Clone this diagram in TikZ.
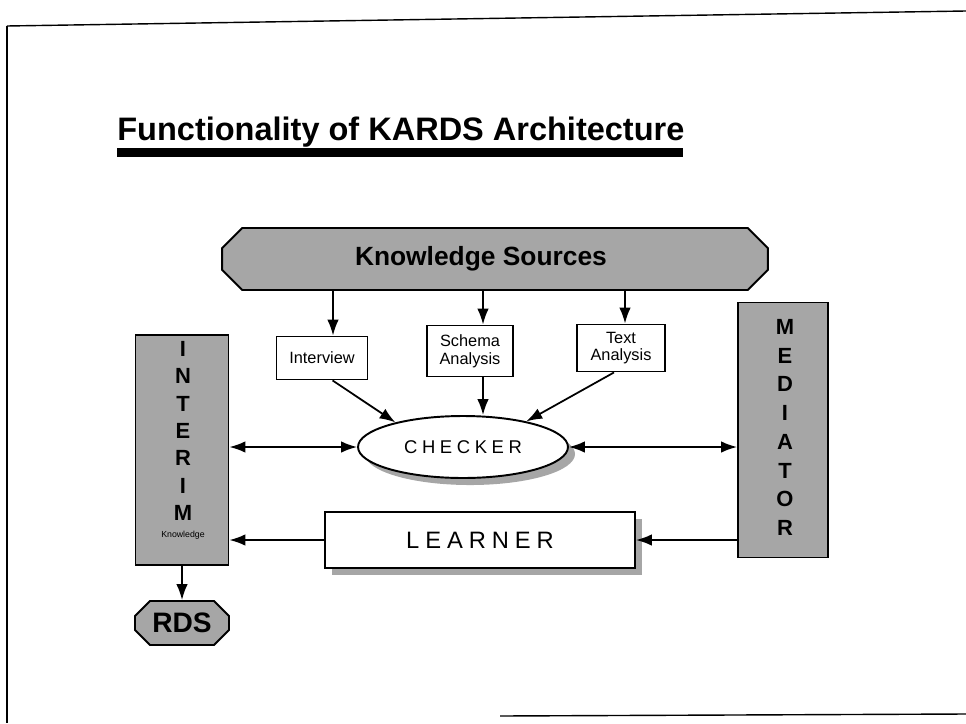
\documentclass[tikz,border=0pt]{standalone}
\usepackage{fontspec}
\setmainfont{Liberation Sans}
\newfontfamily\spaced[LetterSpace=25]{Liberation Sans}
\usetikzlibrary{arrows.meta,shapes.geometric,shapes.misc,positioning,shadows}

\begin{document}
\begin{tikzpicture}[x=0.02cm, y=-0.02cm,
  box/.style={draw, line width=1.1pt, fill=white, align=center, inner sep=1pt, font=\fontsize{9.3}{10}\selectfont},
  tall/.style={draw, line width=1.1pt, fill=black!35},
  letter/.style={font=\bfseries\fontsize{12.5}{12.5}\selectfont, inner sep=0pt},
  arr/.style={line width=1pt, -{Latex[length=9pt,width=6.5pt]}},
  darr/.style={line width=1pt, {Latex[length=9pt,width=6.5pt]}-{Latex[length=9pt,width=6.5pt]}},
  shade/.style={drop shadow={shadow xshift=4pt, shadow yshift=-4pt, fill=black!35, opacity=1}}]
\useasboundingbox (0,0) rectangle (966,723);
\draw[thick] (7,26) -- (966,11);
\draw[thick] (7,26) -- (7,723);
\draw[thick] (500,716) -- (966,714);

\node[anchor=base west, inner sep=0pt, font=\bfseries\fontsize{18.5}{18.5}\selectfont] (title) at (117,140) {Functionality of KARDS Architecture};
\fill (117,148) rectangle (683,157);

\node[chamfered rectangle, chamfered rectangle xsep=8pt, draw, line width=1.1pt, fill=black!35,
  minimum width=10.92cm, minimum height=1.24cm, font=\bfseries\fontsize{15}{15}\selectfont] (ks) at (495,259) {Knowledge Sources\hspace*{16pt}};

\node[box, minimum width=1.82cm, minimum height=0.86cm] (interview) at (322,358) {Interview};
\node[box, minimum width=1.72cm, minimum height=1.02cm] (schema) at (470,351) {Schema\\Analysis};
\node[box, minimum width=1.76cm, minimum height=0.94cm] (textan) at (621,348) {Text\\Analysis};

\node[ellipse, draw, line width=1.1pt, fill=white, shade, minimum width=4.2cm, minimum height=1.24cm,
  font=\spaced\fontsize{10.5}{10.5}\selectfont] (checker) at (463,447) {CHECKER};

\node[tall, minimum width=1.86cm, minimum height=4.6cm] (interim) at (182,450) {};
\foreach \l [count=\i] in {I,N,T,E,R,I,M}
  \node[letter] (int\i) at (183,{349+(\i-1)*27.3}) {\l};
\node[font=\fontsize{5}{5}\selectfont, inner sep=0pt] (intknow) at (183,535) {Knowledge};

\node[tall, minimum width=1.8cm, minimum height=5.1cm] (mediator) at (783,430) {};
\foreach \l [count=\i] in {M,E,D,I,A,T,O,R}
  \node[letter] (med\i) at (785,{327+(\i-1)*28.7}) {\l};

\node[draw, line width=1.1pt, fill=white, shade, minimum width=6.2cm, minimum height=1.12cm,
  font=\spaced\fontsize{13.5}{13.5}\selectfont] (learner) at (480,540) {LEARNER};

\node[chamfered rectangle, chamfered rectangle xsep=5pt, draw, line width=1.1pt, fill=black!35,
  minimum width=1.88cm, minimum height=0.8cm, font=\bfseries\fontsize{16}{16}\selectfont] (rds) at (182,623) {RDS};

\draw[arr] (ks.south -| 333,0) -- (interview.north -| 333,0);
\draw[arr] (ks.south -| 483,0) -- (schema.north -| 483,0);
\draw[arr] (ks.south -| 625,0) -- (textan.north -| 625,0);
\draw[arr] ([xshift=6pt]interview.south) -- (checker.160);
\draw[arr] (schema.south -| 483,0) -- (checker.north -| 483,0);
\draw[arr] ([xshift=-4pt]textan.south) -- (checker.22);
\draw[darr] (interim.east |- checker.west) -- (checker.west);
\draw[darr] (checker.east) -- (mediator.west |- checker.east);
\draw[arr] (mediator.west |- learner.east) -- (learner.east);
\draw[arr] (learner.west) -- (interim.east |- learner.west);
\draw[arr] (interim.south) -- (rds.north);
\end{tikzpicture}
\end{document}
